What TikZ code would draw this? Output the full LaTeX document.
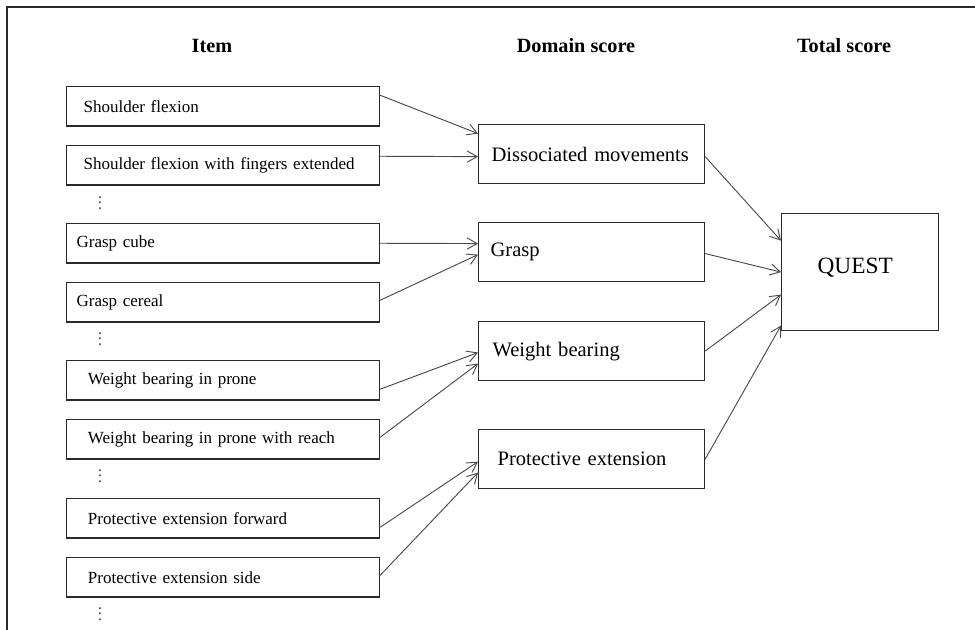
\documentclass[tikz,border=0pt]{standalone}
\usepackage{fontspec}
\setmainfont{Liberation Serif}
\usetikzlibrary{arrows.meta, positioning}

\definecolor{boxline}{HTML}{2A2A2A}
\definecolor{arrline}{HTML}{4A4A4A}

\begin{document}
\begin{tikzpicture}[
    x=0.75pt, y=-0.75pt,
    item/.style={draw=boxline, line width=0.9pt, anchor=north west, minimum height=29.5pt,
        inner xsep=#1, text width=234.75pt-2*#1, align=left, font=\fontsize{12.75}{14}\selectfont},
    domain/.style={draw=boxline, line width=0.9pt, anchor=north west, minimum height=44.25pt,
        inner xsep=#1, text width=169.5pt-2*#1, align=left, font=\fontsize{15.4}{17}\selectfont},
    total/.style={draw=boxline, line width=0.9pt, anchor=north west, inner xsep=#1,
        text width=117.75pt-2*#1, align=left, minimum height=87.75pt, text depth=10pt,
        font=\fontsize{17.5}{20}\selectfont},
    heading/.style={font=\fontsize{15.2}{17}\selectfont\bfseries},
    more/.style={inner sep=0pt, font=\fontsize{12.75}{14}\selectfont, text=arrline},
    link/.style={draw=arrline, line width=0.7pt, -{Straight Barb[length=7.5pt, width=8.5pt]}}
]
\useasboundingbox (0,0) rectangle (975,630);

% frame (cut off at right and bottom)
\draw[boxline, line width=1pt] (975,7) -- (7,7) -- (7,630);

% --- column headings ---
\node[heading] (hitem)   at (212,46) {Item};
\node[heading] (hdomain) at (576,46) {Domain score};
\node[heading] (htotal)  at (844,46) {Total score};

% --- items ---
\node[item=12.75pt] (shflex)  at (66,86)  {Shoulder flexion};
\node[item=12.75pt] (shfing)  at (66,145) {Shoulder flexion with fingers extended};
\node[more] (dots1) at (100,199) {$\vdots$};
\node[item=7.5pt]   (gcube)   at (66,223) {Grasp cube};
\node[item=7.5pt]   (gcereal) at (66,282) {Grasp cereal};
\node[more] (dots2) at (100,335) {$\vdots$};
\node[item=16pt]    (wbprone) at (66,360) {Weight bearing in prone};
\node[item=16pt]    (wbreach) at (66,419) {Weight bearing in prone with reach};
\node[more] (dots3) at (100,472) {$\vdots$};
\node[item=16pt]    (peforw)  at (66,498) {Protective extension forward};
\node[item=16pt]    (peside)  at (66,557) {Protective extension side};
\node[more] (dots4) at (100,610) {$\vdots$};

% --- domain scores ---
\node[domain=9.75pt]  (dismov)  at (478,124) {Dissociated movements};
\node[domain=9pt]     (grasp)   at (478,222) {Grasp};
\node[domain=10.5pt]  (wbear)   at (478,321) {Weight bearing};
\node[domain=14.25pt] (protext) at (478,429) {Protective extension};

% --- total score ---
\node[total=27pt] (quest) at (781,213) {QUEST};

% --- items to domains ---
\draw[link] ([yshift=8.25pt]shflex.east)  -- ([yshift=15.4pt]dismov.west);
\draw[link] ([yshift=6.75pt]shfing.east)  -- ([yshift=-1.9pt]dismov.west);
\draw[link] (gcube.east)                  -- ([yshift=6.4pt]grasp.west);
\draw[link] ([yshift=1.5pt]gcereal.east)  -- ([yshift=-1.9pt]grasp.west);
\draw[link] ([yshift=-6.75pt]wbprone.east) -- ([yshift=-1.1pt]wbear.west);
\draw[link] ([yshift=1.5pt]wbreach.east)  -- ([yshift=-9.4pt]wbear.west);
\draw[link] ([yshift=-6.75pt]peforw.east) -- ([yshift=-1.9pt]protext.west);
\draw[link] ([yshift=1.5pt]peside.east)   -- ([yshift=-10.1pt]protext.west);

% --- domains to total ---
\draw[link] ([yshift=-1.9pt]dismov.east) -- ([yshift=23.6pt]quest.west);
\draw[link] ([yshift=-1.1pt]grasp.east)  -- (quest.west);
\draw[link] (wbear.east)                 -- ([yshift=-16.9pt]quest.west);
\draw[link] (protext.east)               -- ([yshift=-40.1pt]quest.west);

\end{tikzpicture}
\end{document}
